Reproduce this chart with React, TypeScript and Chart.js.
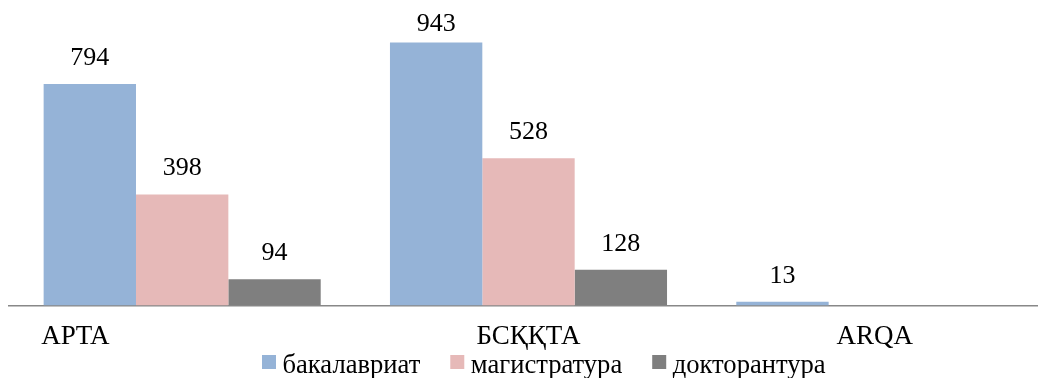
import React, { useEffect, useRef } from "react";
import { Chart, registerables } from "chart.js";

Chart.register(...registerables);

const categories = ["APTA", "БСҚҚТА", "ARQA"];
const seriesNames = ["бакалавриат", "магистратура", "докторантура"];
const bachelorValues = [794, 943, 13];
const masterValues = [398, 528, null];
const doctoralValues = [94, 128, null];
const seriesColors = ["#95B3D7", "#E6B9B8", "#7F7F7F"];

const FONT = "26px 'Liberation Serif', 'Times New Roman', serif";
const CAT_FONT = "27px 'Liberation Serif', 'Times New Roman', serif";
const LEGEND_FONT = "26.6px 'Liberation Serif', 'Times New Roman', serif";

const labelsPlugin = {
  id: "customLabels",
  afterDatasetsDraw(chart: any) {
    const ctx = chart.ctx;
    ctx.save();
    ctx.fillStyle = "#000000";
    ctx.font = FONT;
    ctx.textAlign = "center";
    ctx.textBaseline = "alphabetic";
    // value labels
    chart.data.datasets.forEach((ds: any, di: number) => {
      const meta = chart.getDatasetMeta(di);
      meta.data.forEach((el: any, i: number) => {
        const v = ds.data[i];
        if (v === null || v === undefined) return;
        const y = Math.max(el.y - 19, 31);
        ctx.fillText(String(v), el.x, y);
      });
    });
    // category labels
    ctx.font = CAT_FONT;
    const xs = chart.scales.x;
    const baseY = chart.chartArea.bottom + 38.5;
    categories.forEach((c, i) => {
      let x = xs.getPixelForValue(i);
      if (i === 0) x -= 106.8;
      ctx.fillText(c, x, baseY);
    });
    // legend
    ctx.font = LEGEND_FONT;
    ctx.textAlign = "left";
    let lx = 262;
    const boxTop = 355;
    const box = 14;
    const textY = 373;
    seriesNames.forEach((name, i) => {
      ctx.fillStyle = seriesColors[i];
      ctx.fillRect(lx, boxTop, box, box);
      lx += box + 6.5;
      ctx.fillStyle = "#000000";
      ctx.fillText(name, lx, textY);
      lx += ctx.measureText(name).width + 30;
    });
    ctx.restore();
  },
};

export default function App() {
  const ref = useRef<HTMLCanvasElement | null>(null);
  useEffect(() => {
    if (!ref.current) return;
    const chart = new Chart(ref.current, {
      type: "bar",
      data: {
        labels: categories,
        datasets: [
          { label: seriesNames[0], data: bachelorValues, backgroundColor: seriesColors[0], borderWidth: 0 },
          { label: seriesNames[1], data: masterValues, backgroundColor: seriesColors[1], borderWidth: 0 },
          { label: seriesNames[2], data: doctoralValues, backgroundColor: seriesColors[2], borderWidth: 0 },
        ],
      },
      options: {
        responsive: false,
        animation: false,
        devicePixelRatio: 1,
        layout: { padding: { left: 9, right: 12, top: 26.6, bottom: 72.5 } },
        datasets: { bar: { categoryPercentage: 0.8, barPercentage: 1 } },
        plugins: {
          legend: { display: false },
          tooltip: { enabled: false },
          title: { display: false },
        },
        scales: {
          x: {
            display: true,
            offset: true,
            ticks: { display: false },
            grid: { display: false, drawTicks: false },
            border: { display: true, color: "#888888", width: 1.5 },
          },
          y: {
            display: false,
            min: 0,
            max: 1000,
          },
        },
      },
      plugins: [labelsPlugin],
    });
    return () => chart.destroy();
  }, []);
  return (
    <div
      style={{
        position: "fixed",
        left: 0,
        top: 0,
        width: 1038,
        height: 378,
        overflow: "hidden",
        background: "#ffffff",
      }}
    >
      <canvas ref={ref} width={1060} height={378} style={{ display: "block" }} />
    </div>
  );
}
